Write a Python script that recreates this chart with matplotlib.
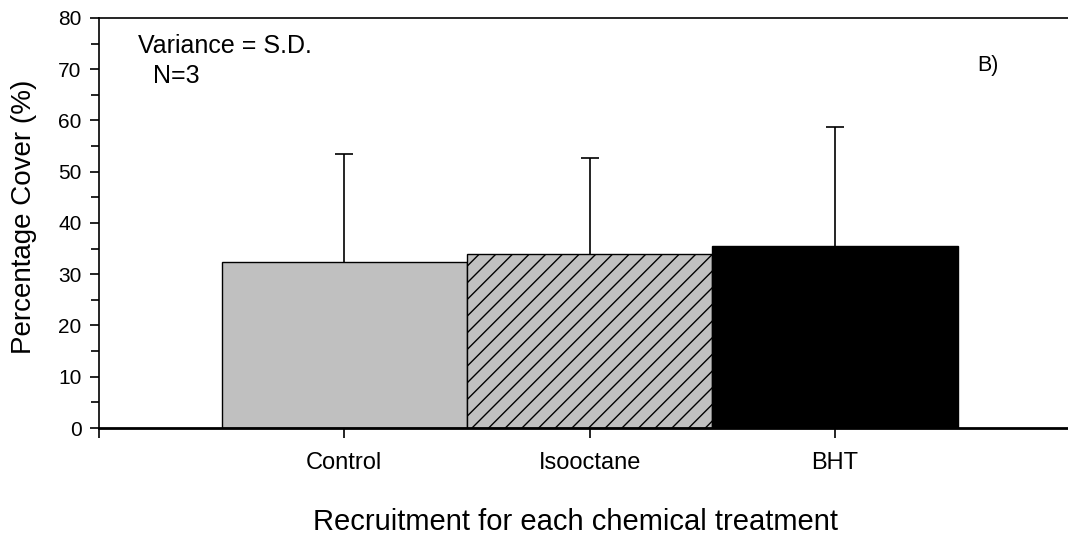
import matplotlib
matplotlib.use("Agg")
import matplotlib.pyplot as plt
from matplotlib.ticker import MultipleLocator

plt.rcParams['font.family'] = ['Liberation Sans', 'DejaVu Sans']
plt.rcParams['hatch.linewidth'] = 1.0

# data
treatments = ["Control", "Isooctane", "BHT"]
mean_cover = [32.3, 33.9, 35.6]
sd_cover = [21.1, 18.8, 23.2]
bar_colours = ["#c0c0c0", "#c0c0c0", "#000000"]
bar_hatches = [None, "//", None]

fig = plt.figure(figsize=(10.68, 5.35), dpi=100)
ax = fig.add_axes([0.0927, 0.2, 0.9073, 0.7664])

xpos = [1, 2, 3]

# error bars first so the bars sit on top of the lower half
_, caps, _ = ax.errorbar(xpos, mean_cover, yerr=[[0] * 3, sd_cover],
                         fmt="none", ecolor="black", elinewidth=1.2,
                         capsize=6.5, capthick=1.2, zorder=1)
caps[0].set_visible(False)  # no cap at the bar top

for x, m, c, h in zip(xpos, mean_cover, bar_colours, bar_hatches):
    ax.bar(x, m, width=1.0, color=c, edgecolor="black", linewidth=1.0,
           hatch=h, zorder=2)

ax.set_xlim(0, 3.95)
ax.set_ylim(0, 80)

ax.set_xticks([0] + xpos)
ax.set_xticklabels([""] + treatments, fontsize=17)
ax.yaxis.set_major_locator(MultipleLocator(10))
ax.yaxis.set_minor_locator(MultipleLocator(5))
ax.tick_params(axis="y", which="major", direction="out", length=6.5,
               width=1.2, labelsize=15, pad=6)
ax.tick_params(axis="y", which="minor", direction="out", length=6,
               width=1.2)
ax.tick_params(axis="x", direction="out", length=7, width=1.2, pad=10)

ax.spines["right"].set_visible(False)
ax.spines["left"].set_linewidth(1.2)
ax.spines["top"].set_linewidth(1.2)
ax.spines["bottom"].set_linewidth(2.0)

ax.set_ylabel("Percentage Cover (%)", fontsize=20)
ax.yaxis.set_label_coords(-0.064, 0.515)
ax.set_xlabel("Recruitment for each chemical treatment", fontsize=21)
ax.xaxis.set_label_coords(0.492, -0.195)

ax.text(0.159, 74.5, "Variance = S.D.", fontsize=18, va="center")
ax.text(0.22, 68.7, "N=3", fontsize=18, va="center")
ax.text(3.58, 70.7, "B)", fontsize=15.5, va="center")

fig.savefig("out.png", dpi=100)
